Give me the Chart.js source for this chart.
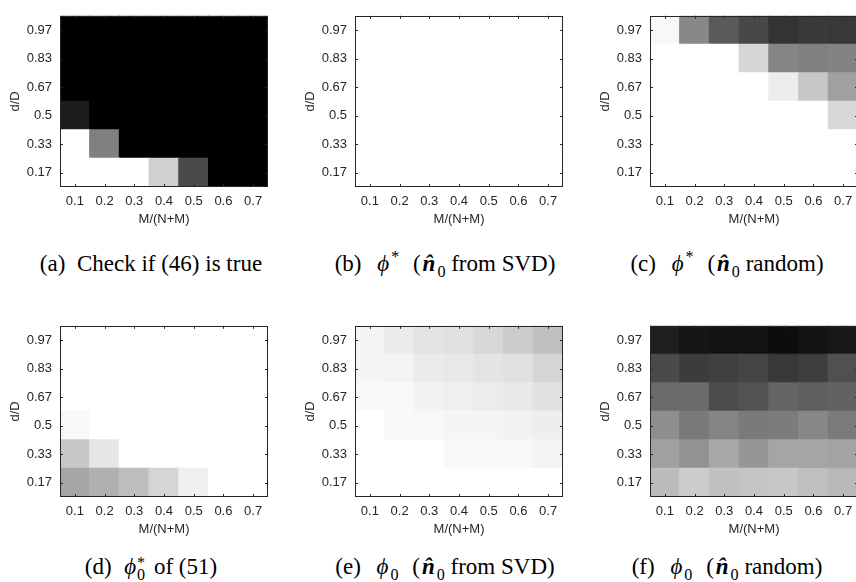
<!DOCTYPE html>
<html>
<head>
<meta charset="utf-8">
<script src="https://cdn.jsdelivr.net/npm/chart.js@4/dist/chart.umd.min.js"></script>
<style>
  body { margin: 0; width: 856px; height: 582px; overflow: hidden; background: #fff; position: relative; }
  canvas.panel { position: absolute; }
  .cap { position: absolute; width: 300px; height: 26px; line-height: 26px; text-align: center;
         font-family: "Liberation Serif", "Times New Roman", serif; font-size: 23px; color: #000; white-space: nowrap; }
  .cap sup, .cap sub { font-size: 70%; line-height: 0; }
  .cap i { margin: 0 1px; }
  .m i { margin: 0 2px; }
  .gap { margin-left: 8px; }
  .ss { display: inline-block; vertical-align: middle; line-height: 0.75; font-size: 70%; text-align: left; margin-right: 3px; }
</style>
</head>
<body>
<canvas class="panel" id="pa" width="290" height="240" style="left:0px;top:0px"></canvas>
<canvas class="panel" id="pb" width="290" height="240" style="left:295px;top:0px"></canvas>
<canvas class="panel" id="pc" width="290" height="240" style="left:590px;top:0px"></canvas>
<canvas class="panel" id="pd" width="290" height="240" style="left:0px;top:310px"></canvas>
<canvas class="panel" id="pe" width="290" height="240" style="left:295px;top:310px"></canvas>
<canvas class="panel" id="pf" width="290" height="240" style="left:590px;top:310px"></canvas>

<div class="cap" style="left:1px;top:251px">(a)&nbsp; Check if (46) is true</div>
<div class="cap m" style="left:295px;top:251px">(b)&nbsp;<span class="gap"></span><i>ϕ</i><sup>*</sup>&nbsp;<span class="gap"></span>(<b><i>n̂</i></b><sub>0</sub> from SVD)</div>
<div class="cap m" style="left:577px;top:251px">(c)&nbsp;<span class="gap"></span><i>ϕ</i><sup>*</sup>&nbsp;<span class="gap"></span>(<b><i>n̂</i></b><sub>0</sub> random)</div>
<div class="cap" style="left:1px;top:554px">(d)&nbsp; <i>ϕ</i><span class="ss">*<br>0</span> of (51)</div>
<div class="cap m" style="left:295px;top:554px">(e)&nbsp;<span class="gap"></span><i>ϕ</i><sub>0</sub>&nbsp;<span class="gap"></span>(<b><i>n̂</i></b><sub>0</sub> from SVD)</div>
<div class="cap m" style="left:577px;top:554px">(f)&nbsp;<span class="gap"></span><i>ϕ</i><sub>0</sub>&nbsp;<span class="gap"></span>(<b><i>n̂</i></b><sub>0</sub> random)</div>

<script>
const xLabels = ['0.1', '0.2', '0.3', '0.4', '0.5', '0.6', '0.7'];
const yLabels = ['0.17', '0.33', '0.5', '0.67', '0.83', '0.97'];

// gray level of each cell, 0 = black, 255 = white
// rows go from bottom (d/D = 0.17) to top (d/D = 0.97)
const checkTrue = [
  [255, 255, 255, 208, 74, 0, 0],
  [255, 128, 0, 0, 0, 0, 0],
  [28, 0, 0, 0, 0, 0, 0],
  [0, 0, 0, 0, 0, 0, 0],
  [0, 0, 0, 0, 0, 0, 0],
  [0, 0, 0, 0, 0, 0, 0]
];
const phiStarSvd = [
  [255, 255, 255, 255, 255, 255, 255],
  [255, 255, 255, 255, 255, 255, 255],
  [255, 255, 255, 255, 255, 255, 255],
  [255, 255, 255, 255, 255, 255, 255],
  [255, 255, 255, 255, 255, 255, 255],
  [255, 255, 255, 255, 255, 255, 255]
];
const phiStarRandom = [
  [255, 255, 255, 255, 255, 255, 255],
  [255, 255, 255, 255, 255, 255, 255],
  [255, 255, 255, 255, 255, 255, 216],
  [255, 255, 255, 255, 236, 200, 160],
  [255, 255, 255, 214, 133, 128, 131],
  [248, 136, 90, 72, 51, 58, 56]
];
const phi0Star51 = [
  [165, 176, 189, 213, 240, 255, 255],
  [200, 230, 255, 255, 255, 255, 255],
  [248, 255, 255, 255, 255, 255, 255],
  [255, 255, 255, 255, 255, 255, 255],
  [255, 255, 255, 255, 255, 255, 255],
  [255, 255, 255, 255, 255, 255, 255]
];
const phi0Svd = [
  [255, 255, 255, 255, 255, 255, 255],
  [255, 255, 255, 249, 249, 249, 244],
  [255, 249, 248, 245, 245, 242, 238],
  [248, 248, 242, 239, 236, 232, 226],
  [245, 243, 235, 232, 228, 224, 213],
  [245, 235, 227, 224, 216, 204, 192]
];
const phi0Random = [
  [188, 204, 193, 196, 200, 191, 184],
  [160, 146, 168, 150, 165, 165, 163],
  [142, 122, 133, 122, 124, 136, 123],
  [106, 106, 76, 82, 100, 95, 98],
  [74, 60, 64, 69, 56, 62, 80],
  [30, 22, 18, 19, 13, 19, 24]
];

const axisColor = '#262626';
const tickFont = { family: '"Liberation Sans", Arial, sans-serif', size: 13 };

// box round the plot plus short inward ticks on all four sides (matlab look)
const frame = {
  id: 'frame',
  afterDatasetsDraw(chart) {
    const { ctx, chartArea: a, scales: { x, y } } = chart;
    ctx.save();
    ctx.strokeStyle = axisColor;
    ctx.lineWidth = 1;
    ctx.beginPath();
    x.ticks.forEach((t, i) => {
      const px = Math.round(x.getPixelForTick(i)) + 0.5;
      ctx.moveTo(px, a.bottom); ctx.lineTo(px, a.bottom - 3);
      ctx.moveTo(px, a.top); ctx.lineTo(px, a.top + 3);
    });
    y.ticks.forEach((t, i) => {
      const py = Math.round(y.getPixelForTick(i)) + 0.5;
      ctx.moveTo(a.left, py); ctx.lineTo(a.left + 3, py);
      ctx.moveTo(a.right, py); ctx.lineTo(a.right - 3, py);
    });
    ctx.stroke();
    ctx.strokeRect(Math.round(a.left) + 0.5, Math.round(a.top) + 0.5,
      Math.round(a.width) - 1, Math.round(a.height) - 1);
    ctx.restore();
  }
};

function gray(g) {
  return `rgb(${g},${g},${g})`;
}

function makePanel(id, values) {
  new Chart(document.getElementById(id), {
    type: 'bar',
    data: {
      labels: xLabels,
      datasets: yLabels.map((_, i) => ({
        data: xLabels.map(() => [i, i + 1]),
        backgroundColor: values[i].map(gray),
        borderWidth: 0,
        inflateAmount: 0.6,
        barPercentage: 1,
        categoryPercentage: 1,
        grouped: false
      }))
    },
    options: {
      responsive: false,
      animation: false,
      layout: { padding: { top: 4, right: 22, left: 0, bottom: 0 } },
      plugins: { legend: { display: false }, tooltip: { enabled: false } },
      scales: {
        x: {
          grid: { display: false, drawTicks: false },
          border: { display: false },
          ticks: { font: tickFont, color: axisColor, padding: 7, maxRotation: 0, autoSkip: false },
          title: { display: true, text: 'M/(N+M)', font: tickFont, color: axisColor, padding: { top: 0, bottom: 13 } },
          afterFit(s) { s.height = 53; }
        },
        y: {
          min: 0,
          max: 6,
          grid: { display: false, drawTicks: false },
          border: { display: false },
          afterBuildTicks(s) { s.ticks = yLabels.map((_, i) => ({ value: i + 0.5 })); },
          ticks: { font: tickFont, color: axisColor, padding: 8, callback: (v, i) => yLabels[i] },
          title: { display: true, text: 'd/D', font: tickFont, color: axisColor, padding: { top: 8, bottom: 0 } },
          afterFit(s) { s.width = 60; }
        }
      }
    },
    plugins: [frame]
  });
}

makePanel('pa', checkTrue);
makePanel('pb', phiStarSvd);
makePanel('pc', phiStarRandom);
makePanel('pd', phi0Star51);
makePanel('pe', phi0Svd);
makePanel('pf', phi0Random);
</script>
</body>
</html>
